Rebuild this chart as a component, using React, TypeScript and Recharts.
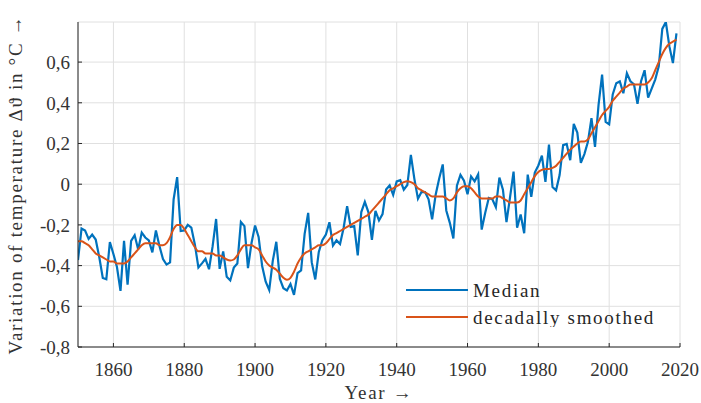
import { LineChart, Line, XAxis, YAxis, CartesianGrid } from 'recharts';

const FIRST_YEAR = 1850;

// annual global median anomaly (°C), 1850..2019
const median = [
  -0.373, -0.218, -0.228, -0.269, -0.248, -0.272, -0.358, -0.461, -0.467, -0.284,
  -0.343, -0.407, -0.524, -0.278, -0.494, -0.279, -0.251, -0.321, -0.238, -0.262,
  -0.276, -0.335, -0.227, -0.304, -0.368, -0.395, -0.384, -0.075, 0.035, -0.23,
  -0.227, -0.2, -0.213, -0.296, -0.409, -0.389, -0.367, -0.418, -0.307, -0.171,
  -0.416, -0.33, -0.455, -0.473, -0.41, -0.39, -0.186, -0.206, -0.412, -0.289,
  -0.203, -0.259, -0.402, -0.479, -0.52, -0.377, -0.283, -0.465, -0.511, -0.522,
  -0.49, -0.544, -0.437, -0.424, -0.244, -0.141, -0.383, -0.468, -0.333, -0.275,
  -0.247, -0.187, -0.302, -0.276, -0.294, -0.215, -0.108, -0.21, -0.206, -0.35,
  -0.137, -0.087, -0.137, -0.273, -0.131, -0.178, -0.147, -0.026, -0.006, -0.052,
  0.014, 0.02, -0.027, -0.004, 0.144, 0.025, -0.071, -0.038, -0.039, -0.074,
  -0.173, -0.052, 0.028, 0.097, -0.129, -0.19, -0.267, -0.007, 0.046, 0.017,
  -0.049, 0.038, 0.014, 0.048, -0.223, -0.14, -0.068, -0.074, -0.113, 0.032,
  -0.027, -0.186, -0.065, 0.062, -0.214, -0.149, -0.241, 0.047, -0.062, 0.057,
  0.092, 0.14, 0.011, 0.194, -0.014, -0.03, 0.045, 0.192, 0.198, 0.118,
  0.296, 0.254, 0.105, 0.148, 0.208, 0.325, 0.183, 0.39, 0.539, 0.306,
  0.294, 0.441, 0.496, 0.505, 0.447, 0.545, 0.506, 0.491, 0.395, 0.506,
  0.56, 0.425, 0.47, 0.514, 0.579, 0.763, 0.797, 0.677, 0.595, 0.741,
];

// decadally smoothed curve
const smoothed = [
  -0.28, -0.28, -0.29, -0.3, -0.32, -0.34, -0.35, -0.36, -0.37, -0.38,
  -0.38, -0.39, -0.39, -0.39, -0.38, -0.36, -0.34, -0.32, -0.3, -0.29,
  -0.29, -0.29, -0.29, -0.3, -0.3, -0.29, -0.26, -0.22, -0.2, -0.2,
  -0.22, -0.25, -0.28, -0.31, -0.33, -0.33, -0.34, -0.34, -0.34, -0.35,
  -0.35, -0.36, -0.37, -0.375, -0.37, -0.35, -0.32, -0.3, -0.3, -0.3,
  -0.31, -0.32, -0.35, -0.38, -0.4, -0.41, -0.42, -0.44, -0.46, -0.47,
  -0.46, -0.43, -0.39, -0.36, -0.34, -0.33, -0.32, -0.31, -0.3, -0.3,
  -0.29, -0.27, -0.25, -0.24, -0.23, -0.22, -0.21, -0.2, -0.19, -0.18,
  -0.17, -0.16, -0.15, -0.13, -0.11, -0.09, -0.07, -0.05, -0.03, -0.02,
  -0.01, 0.0, 0.01, 0.015, 0.01, 0.0, -0.02, -0.03, -0.04, -0.05,
  -0.06, -0.06, -0.06, -0.06, -0.07, -0.08, -0.07, -0.04, -0.02, -0.01,
  -0.01, -0.02, -0.04, -0.06, -0.07, -0.07, -0.07, -0.07, -0.06, -0.06,
  -0.07, -0.08, -0.09, -0.09, -0.09, -0.08, -0.05, -0.02, 0.01, 0.04,
  0.06, 0.07, 0.075, 0.075, 0.08, 0.09, 0.11, 0.13, 0.15, 0.17,
  0.185, 0.2, 0.21, 0.21, 0.22, 0.25, 0.28, 0.31, 0.34, 0.36,
  0.38, 0.41, 0.43, 0.45, 0.47, 0.48, 0.49, 0.49, 0.49, 0.49,
  0.49, 0.5, 0.52, 0.56, 0.6, 0.64, 0.67, 0.69, 0.7, 0.71,
];

const xTicks = [1860, 1880, 1900, 1920, 1940, 1960, 1980, 2000, 2020];
const yTicks = [-0.8, -0.6, -0.4, -0.2, 0, 0.2, 0.4, 0.6];

const data = median.map((m, i) => ({ year: FIRST_YEAR + i, median: m, smoothed: smoothed[i] }));

const FONT = "'Times New Roman', 'Liberation Serif', serif";
const BLUE = '#0072BD';
const ORANGE = '#D95319';

const fmt = (v: number) => (v === 0 ? '0' : String(v).replace('.', ','));

// legend drawn as a plain overlay so it takes no room from the plot
function LegendBox() {
  return (
    <svg width={270} height={50} style={{ position: 'absolute', left: 400, top: 277 }}>
      <line x1={6} x2={68} y1={13} y2={13} stroke={BLUE} strokeWidth={2} />
      <text x={73} y={13} dominantBaseline="central" style={{ fontFamily: FONT, fontSize: 19, letterSpacing: 1.7 }} fill="#262626">
        Median
      </text>
      <line x1={6} x2={68} y1={40} y2={40} stroke={ORANGE} strokeWidth={2} />
      <text x={73} y={40} dominantBaseline="central" style={{ fontFamily: FONT, fontSize: 19, letterSpacing: 1.7 }} fill="#262626">
        decadally smoothed
      </text>
    </svg>
  );
}

export default function App() {
  return (
    <div style={{ position: 'absolute', left: 0, top: 0, width: 701, height: 403, fontFamily: FONT }}>
      <LineChart width={701} height={403} data={data} margin={{ top: 22, right: 21, left: 0, bottom: 0 }}>
        <CartesianGrid stroke="#e0e0e0" strokeWidth={1} />
        <XAxis
          dataKey="year"
          type="number"
          domain={[1850, 2020]}
          ticks={xTicks}
          allowDataOverflow
          height={56}
          tickSize={-4}
          tickMargin={20}
          stroke="#262626"
          tick={{ fill: '#333', fontSize: 19, style: { fontFamily: FONT } }}
          label={{
            content: (props: any) => {
              const vb = props.viewBox;
              return (
                <text x={vb.x + vb.width / 2} y={vb.y + 45} textAnchor="middle" dominantBaseline="central"
                  style={{ fontFamily: FONT, fontSize: 19, letterSpacing: 1.7 }} fill="#333">
                  Year →
                </text>
              );
            },
          }}
        />
        <YAxis
          type="number"
          domain={[-0.8, 'dataMax']}
          ticks={yTicks}
          allowDataOverflow
          width={78}
          tickSize={-4}
          tickMargin={12}
          stroke="#262626"
          tickFormatter={fmt}
          tick={{ fill: '#333', fontSize: 19, style: { fontFamily: FONT } }}
          label={{
            content: (props: any) => {
              const vb = props.viewBox;
              const cy = vb.y + vb.height / 2;
              return (
                <text x={15} y={cy} transform={`rotate(-90, 15, ${cy})`} textAnchor="middle" dominantBaseline="central"
                  style={{ fontFamily: FONT, fontSize: 19, letterSpacing: 1.7 }} fill="#333">
                  Variation of temperature Δϑ in °C →
                </text>
              );
            },
          }}
        />
        <Line type="linear" dataKey="median" stroke={BLUE} strokeWidth={2.2} dot={false} isAnimationActive={false} />
        <Line type="monotone" dataKey="smoothed" stroke={ORANGE} strokeWidth={2} dot={false} isAnimationActive={false} />
      </LineChart>
      <LegendBox />
    </div>
  );
}
